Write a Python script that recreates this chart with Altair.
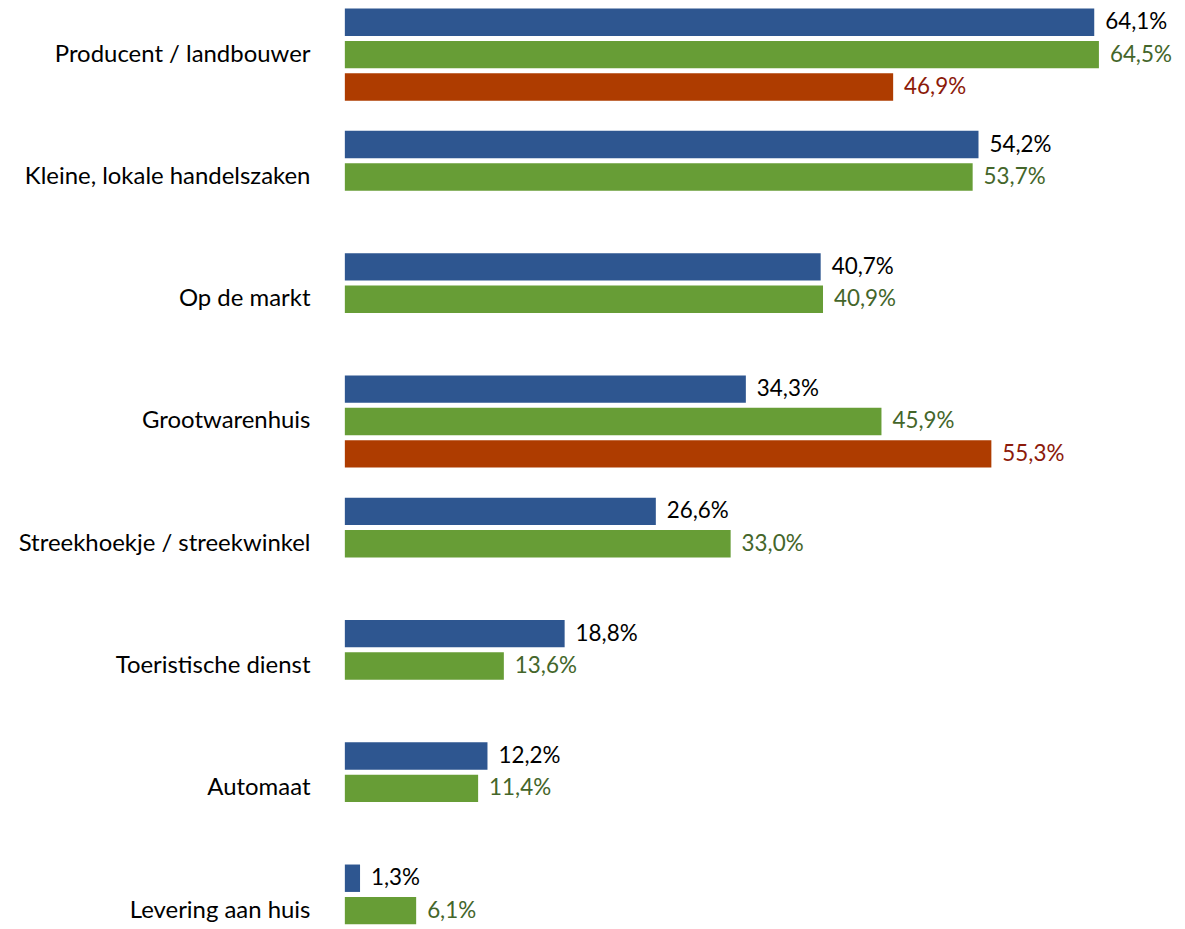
import altair as alt
import pandas as pd

categories = [
    "Producent / landbouwer",
    "Kleine, lokale handelszaken",
    "Op de markt",
    "Grootwarenhuis",
    "Streekhoekje / streekwinkel",
    "Toeristische dienst",
    "Automaat",
    "Levering aan huis",
]
series = ["Reeks 1", "Reeks 2", "Reeks 3"]
blue_values = [64.1, 54.2, 40.7, 34.3, 26.6, 18.8, 12.2, 1.3]
green_values = [64.5, 53.7, 40.9, 45.9, 33.0, 13.6, 11.4, 6.1]
red_values = [46.9, None, None, 55.3, None, None, None, None]

bar_colors = ["#2e5690", "#679d36", "#ae3c00"]
label_colors = ["#000000", "#44662a", "#8c1a0a"]

rows = []
for s, vals in zip(series, [blue_values, green_values, red_values]):
    for c, v in zip(categories, vals):
        if v is None:
            continue
        rows.append({"cat": c, "series": s, "value": v,
                     "label": f"{v:.1f}".replace(".", ",") + "%"})
df = pd.DataFrame(rows)

FONT = "Lato"

y_enc = alt.Y("cat:N", sort=categories,
              scale=alt.Scale(domain=categories, range=[-1, 950.4],
                              paddingInner=0.246, paddingOuter=0),
              axis=alt.Axis(title=None, domain=False, ticks=False,
                            labelPadding=35, labelFontSize=24,
                            labelFont=FONT, labelColor="#000000",
                            labelLimit=400))
yoff_enc = alt.YOffset("series:N",
                       scale=alt.Scale(domain=series, paddingInner=0.154,
                                       paddingOuter=0))
x_enc = alt.X("value:Q", scale=alt.Scale(domain=[0, 69.9], nice=False),
              axis=None)

bars = alt.Chart(df).mark_bar().encode(
    x=x_enc, y=y_enc, yOffset=yoff_enc,
    color=alt.Color("series:N", scale=alt.Scale(domain=series, range=bar_colors),
                    legend=None),
)

labels = alt.Chart(df).mark_text(align="left", baseline="middle", dx=11,
                                 fontSize=22.5, font=FONT).encode(
    x=x_enc, y=y_enc, yOffset=yoff_enc, text="label:N",
    color=alt.Color("series:N", scale=alt.Scale(domain=series, range=label_colors),
                    legend=None),
)

chart = alt.layer(bars, labels).resolve_scale(color="independent").properties(
    width=820, height=917,
    autosize=alt.AutoSizeParams(type="none"),
    padding={"left": 338, "top": 0, "right": 15, "bottom": 0},
).configure_view(stroke=None)

chart.save("out.html", embed_options={"renderer": "svg", "actions": False})
